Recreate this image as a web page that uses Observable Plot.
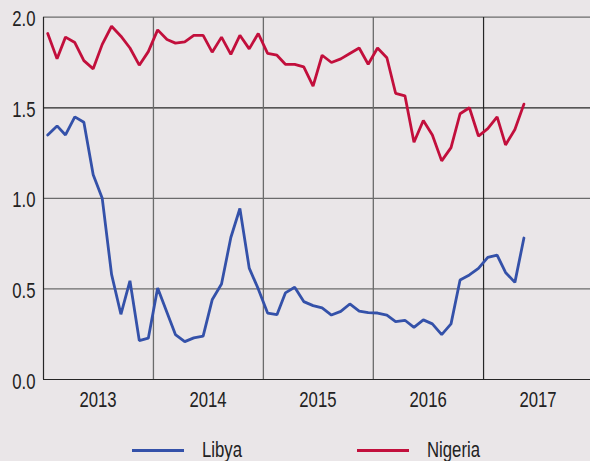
<!DOCTYPE html>
<html><head><meta charset="utf-8">
<script src="https://cdn.jsdelivr.net/npm/d3@7"></script>
<script src="https://cdn.jsdelivr.net/npm/@observablehq/plot@0.6"></script>
<style>
html,body{margin:0;padding:0;background:#eae6e8;}
#wrap{position:relative;width:590px;height:461px;overflow:hidden;background:#eae6e8;font-family:"Liberation Sans",Arial,sans-serif;}
.sw{position:absolute;height:3px;}
.lab{position:absolute;font-size:22px;line-height:22px;color:#222;white-space:nowrap;transform:scaleX(0.76);transform-origin:0 0;}
</style></head>
<body><div id="wrap"></div>
<script>
const startYear = 2013;
const yearLabels = [2013, 2014, 2015, 2016, 2017];
const yearLines = [2014, 2015, 2016, 2017];
const yTicks = [0, 0.5, 1, 1.5, 2];
const seriesNames = ["Libya", "Nigeria"];
const seriesColors = ["#3451a9", "#c20f3c"];
// monthly values, Jan 2013 - May 2017
const libya = [1.35, 1.40, 1.35, 1.45, 1.42, 1.13, 1.00, 0.58, 0.36, 0.545, 0.215, 0.228,
  0.505, 0.37, 0.248, 0.209, 0.23, 0.239, 0.44, 0.527, 0.784, 0.944, 0.615, 0.50,
  0.367, 0.358, 0.478, 0.509, 0.43, 0.408, 0.395, 0.356, 0.376, 0.417, 0.378, 0.369,
  0.367, 0.356, 0.32, 0.327, 0.288, 0.329, 0.307, 0.248, 0.307, 0.549, 0.577, 0.613,
  0.674, 0.687, 0.591, 0.536, 0.781];
const nigeria = [1.91, 1.77, 1.89, 1.86, 1.76, 1.715, 1.85, 1.95, 1.895, 1.83, 1.735, 1.81,
  1.93, 1.877, 1.857, 1.864, 1.90, 1.90, 1.807, 1.89, 1.795, 1.90, 1.825, 1.91,
  1.80, 1.79, 1.74, 1.74, 1.726, 1.62, 1.79, 1.75, 1.77, 1.80, 1.83, 1.74,
  1.83, 1.776, 1.58, 1.566, 1.31, 1.43, 1.35, 1.207, 1.28, 1.467, 1.50, 1.344,
  1.385, 1.45, 1.295, 1.38, 1.52];

const monthDate = i => new Date(Date.UTC(startYear, i, 15));
const rows = [];
[libya, nigeria].forEach((vals, s) => vals.forEach((v, i) => rows.push({date: monthDate(i), value: v, series: seriesNames[s]})));

const jan = y => new Date(Date.UTC(y, 0, 1));
const mid = y => new Date(Date.UTC(y, 6, 1));
const font = '"Liberation Sans",Arial,sans-serif';

const chart = Plot.plot({
  width: 590, height: 440,
  marginLeft: 43, marginRight: 0, marginTop: 17, marginBottom: 61,
  style: {background: "transparent", fontFamily: font, fontSize: "22px", color: "#222", overflow: "visible"},
  x: {type: "utc", domain: [jan(2013), jan(2018)], range: [43, 593]},
  y: {domain: [0, 2], range: [379, 16.7]},
  color: {domain: seriesNames, range: seriesColors},
  marks: [
    Plot.ruleY(yTicks.filter(t => t === 0.5 || t === 1 || t === 2), {stroke: "#6b6b6b", strokeWidth: 1.3}),
    Plot.ruleY(yTicks.filter(t => t === 0 || t === 1.5), {stroke: "#262626", strokeWidth: 1.2}),
    Plot.ruleX(yearLines.filter(y => y !== 2017).map(jan), {stroke: "#6b6b6b", strokeWidth: 1.3}),
    Plot.ruleX(yearLines.filter(y => y === 2017).map(jan), {stroke: "#262626", strokeWidth: 1.2}),
    Plot.ruleX([jan(yearLabels[0])], {stroke: "#262626", strokeWidth: 1.2}),
    Plot.axisY(yTicks, {tickSize: 0, tickPadding: 8, dy: 2, tickFormat: d3.format(".1f"), label: null, fontSize: 22, fill: "#222"}),
    Plot.axisX(yearLabels.map(mid), {tickSize: 0, tickPadding: 12, tickFormat: d3.utcFormat("%Y"), label: null, fontSize: 22, fill: "#222"}),
    Plot.lineY(rows, {x: "date", y: "value", z: "series", stroke: "series", strokeWidth: 2.8, strokeLinejoin: "miter"})
  ]
});
// condense the text horizontally (narrow typeface look), keeping anchors in place
chart.querySelectorAll("text").forEach(t => {
  const tr = t.getAttribute("transform");
  if (tr) t.setAttribute("transform", tr + " scale(0.76,1)");
  else {
    const x = +(t.getAttribute("x") || 0);
    t.setAttribute("transform", `translate(${x * 0.24},0) scale(0.76,1)`);
  }
});
const wrap = document.getElementById("wrap");
wrap.appendChild(chart);

// legend
const legendPos = [{sx: 132, sw: 52, tx: 202}, {sx: 357, sw: 52, tx: 427}];
seriesNames.forEach((n, i) => {
  const s = document.createElement("div");
  s.className = "sw";
  s.style.left = legendPos[i].sx + "px";
  s.style.width = legendPos[i].sw + "px";
  s.style.top = "448.5px";
  s.style.background = seriesColors[i];
  wrap.appendChild(s);
  const t = document.createElement("div");
  t.className = "lab";
  t.style.left = legendPos[i].tx + "px";
  t.style.top = "438.5px";
  t.textContent = n;
  wrap.appendChild(t);
});
</script>
</body></html>
